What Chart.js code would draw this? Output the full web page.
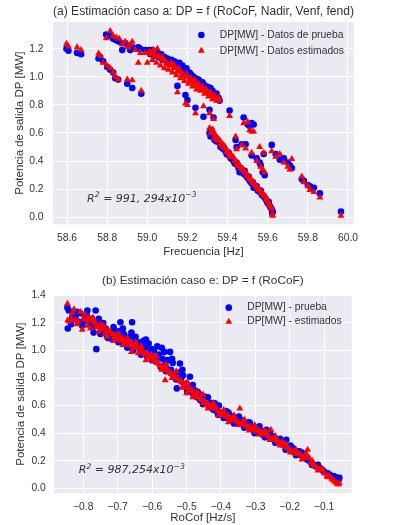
<!DOCTYPE html>
<html>
<head>
<meta charset="utf-8">
<script src="https://cdn.jsdelivr.net/npm/chart.js@4.4.0/dist/chart.umd.min.js"></script>
<style>
	body { margin: 0; background: #fff; }
	canvas { display: block; }
</style>
</head>
<body>
<canvas id="chart-a" width="394" height="263"></canvas>
<canvas id="chart-b" width="394" height="262"></canvas>
<script>
// (a) frecuencia -> DP, same x for test and estimated values
const frecuencia = [
	58.597, 58.607, 58.650, 58.670,
	58.757, 58.765, 58.780, 58.800, 58.815, 58.830, 58.840, 58.855, 58.900, 58.925, 58.970,
	58.795, 58.815, 58.830, 58.845, 58.860, 58.875, 58.890, 58.905, 58.915, 58.925, 58.940, 58.955, 58.965, 58.990, 59.000,
	59.01, 59.02, 59.03, 59.04, 59.05, 59.06, 59.07, 59.08, 59.09, 59.10, 59.11, 59.12, 59.13, 59.14, 59.15, 59.16, 59.17, 59.18,
	59.19, 59.20, 59.21, 59.22, 59.23, 59.24, 59.25, 59.26, 59.27, 59.28, 59.29, 59.30, 59.31, 59.32, 59.33, 59.34, 59.35, 59.36,
	59.015, 59.035, 59.055, 59.075, 59.095, 59.115, 59.135, 59.155, 59.175, 59.195, 59.215, 59.235, 59.255, 59.275, 59.295, 59.315, 59.335, 59.355,
	59.025, 59.045, 59.065, 59.085, 59.105, 59.125, 59.145, 59.165, 59.185, 59.205, 59.225, 59.245, 59.265, 59.285, 59.305, 59.325, 59.345,
	59.150, 59.190, 59.200, 59.240, 59.280, 59.310, 59.330,
	59.410, 59.480, 59.500, 59.510, 59.520, 59.530,
	59.310, 59.320, 59.330, 59.340, 59.350, 59.360, 59.370, 59.380, 59.390, 59.400, 59.410, 59.420, 59.430, 59.440, 59.450, 59.460, 59.470,
	59.480, 59.490, 59.500, 59.510, 59.520, 59.530, 59.540, 59.550, 59.560, 59.570, 59.580, 59.590, 59.600, 59.610, 59.620, 59.625,
	59.325, 59.355, 59.385, 59.405, 59.425, 59.445, 59.465, 59.485, 59.505, 59.525, 59.545, 59.565, 59.585, 59.605, 59.615, 59.622,
	59.315, 59.335, 59.345, 59.365, 59.375, 59.395, 59.415, 59.435, 59.455, 59.475, 59.495, 59.515, 59.535, 59.555, 59.575, 59.595,
	59.440, 59.445, 59.470, 59.490, 59.520, 59.545, 59.560, 59.565, 59.575, 59.585, 59.580,
	59.620, 59.640, 59.660, 59.680, 59.700, 59.720, 59.710,
	59.770, 59.780, 59.800, 59.810, 59.830, 59.860,
	59.965,
];
const dpPruebaA = [
	1.20, 1.185, 1.17, 1.16,
	1.13, 1.14, 1.11, 1.07, 1.05, 1.03, 0.99, 0.98, 0.95, 0.92, 0.88,
	1.30, 1.29, 1.27, 1.26, 1.25, 1.19, 1.24, 1.22, 1.19, 1.21, 1.20, 1.21, 1.20, 1.19, 1.18,
	1.19, 1.17, 1.18, 1.16, 1.17, 1.15, 1.16, 1.14, 1.13, 1.13, 1.11, 1.12, 1.10, 1.09, 1.08, 1.10, 1.06, 1.05,
	1.04, 1.03, 1.03, 1.01, 1.00, 0.98, 0.97, 0.96, 0.95, 0.93, 0.92, 0.91, 0.90, 0.88, 0.88, 0.86, 0.84, 0.83,
	1.16, 1.15, 1.14, 1.12, 1.12, 1.10, 1.11, 1.07, 1.08, 1.06, 1.02, 0.99, 0.98, 0.96, 0.93, 0.92, 0.87, 0.85,
	1.19, 1.17, 1.15, 1.14, 1.12, 1.10, 1.08, 1.07, 1.04, 1.02, 1.00, 0.985, 0.965, 0.94, 0.925, 0.90, 0.88,
	0.935, 0.87, 0.835, 0.78, 0.715, 0.765, 0.71,
	0.76, 0.71, 0.66, 0.65, 0.67, 0.66,
	0.60, 0.62, 0.58, 0.57, 0.545, 0.53, 0.51, 0.50, 0.47, 0.445, 0.44, 0.42, 0.40, 0.38, 0.37, 0.32, 0.34,
	0.31, 0.30, 0.28, 0.26, 0.24, 0.21, 0.215, 0.19, 0.18, 0.16, 0.15, 0.13, 0.10, 0.08, 0.055, 0.04,
	0.59, 0.54, 0.48, 0.46, 0.41, 0.39, 0.35, 0.33, 0.29, 0.25, 0.22, 0.19, 0.14, 0.11, 0.07, 0.03,
	0.575, 0.55, 0.54, 0.50, 0.49, 0.45, 0.42, 0.385, 0.35, 0.32, 0.29, 0.255, 0.225, 0.19, 0.155, 0.115,
	0.55, 0.50, 0.52, 0.52, 0.44, 0.42, 0.39, 0.37, 0.32, 0.30, 0.45,
	0.515, 0.45, 0.41, 0.42, 0.39, 0.35, 0.37,
	0.27, 0.26, 0.23, 0.22, 0.21, 0.17,
	0.04,
];
const dpEstimadoA = [
	1.235, 1.215, 1.21, 1.19,
	1.165, 1.15, 1.10, 1.08, 1.06, 1.03, 1.00, 0.98, 0.98, 0.975, 0.90,
	1.275, 1.325, 1.29, 1.28, 1.27, 1.23, 1.25, 1.21, 1.23, 1.25, 1.19, 1.10, 1.17, 1.17, 1.10,
	1.18, 1.17, 1.19, 1.15, 1.20, 1.14, 1.13, 1.12, 1.11, 1.09, 1.08, 1.10, 1.06, 1.07, 1.04, 1.05, 1.03, 1.01,
	1.00, 1.00, 0.98, 0.97, 0.96, 0.95, 0.94, 0.93, 0.92, 0.91, 0.90, 0.89, 0.88, 0.87, 0.86, 0.85, 0.84, 0.83,
	1.16, 1.16, 1.15, 1.14, 1.10, 1.09, 1.08, 1.06, 1.02, 1.02, 0.99, 0.98, 0.95, 0.93, 0.91, 0.89, 0.87, 0.85,
	1.12, 1.10, 1.08, 1.06, 1.05, 1.03, 1.01, 0.99, 0.97, 0.95, 0.93, 0.91, 0.90, 0.88, 0.86, 0.84, 0.83,
	0.89, 0.81, 0.80, 0.74, 0.79, 0.74, 0.70,
	0.72, 0.67, 0.68, 0.62, 0.61, 0.61,
	0.635, 0.61, 0.60, 0.585, 0.56, 0.55, 0.525, 0.515, 0.49, 0.47, 0.455, 0.43, 0.425, 0.40, 0.385, 0.37, 0.35,
	0.335, 0.32, 0.30, 0.28, 0.265, 0.245, 0.23, 0.21, 0.195, 0.18, 0.16, 0.14, 0.12, 0.09, 0.06, 0.01,
	0.625, 0.545, 0.505, 0.445, 0.435, 0.38, 0.355, 0.32, 0.285, 0.25, 0.215, 0.18, 0.155, 0.10, 0.075, 0.02,
	0.60, 0.565, 0.55, 0.52, 0.50, 0.465, 0.43, 0.40, 0.365, 0.335, 0.30, 0.27, 0.235, 0.20, 0.165, 0.125,
	0.575, 0.485, 0.515, 0.49, 0.46, 0.40, 0.50, 0.36, 0.34, 0.32, 0.46,
	0.47, 0.43, 0.45, 0.39, 0.36, 0.415, 0.34,
	0.29, 0.25, 0.22, 0.195, 0.18, 0.14,
	0.01,
];

// (b) RoCoF -> DP
const rocof = [
	-0.846, -0.845, -0.842, -0.835, -0.827, -0.822, -0.815, -0.808, -0.803, -0.795, -0.790, -0.785, -0.779, -0.775, -0.770,
	-0.764, -0.762, -0.758, -0.750, -0.745, -0.740, -0.735, -0.731, -0.725, -0.720, -0.715, -0.710, -0.705, -0.700, -0.695,
	-0.692, -0.688, -0.682, -0.675, -0.670, -0.665, -0.658, -0.655, -0.650, -0.645, -0.640, -0.635, -0.630, -0.625, -0.620,
	-0.615, -0.610, -0.605, -0.600, -0.595, -0.590, -0.585, -0.580, -0.575, -0.570, -0.565, -0.562, -0.558, -0.555, -0.548,
	-0.545, -0.540, -0.535, -0.528, -0.525, -0.519, -0.515, -0.510, -0.505, -0.500, -0.495, -0.490, -0.485, -0.480, -0.475,
	-0.470, -0.465, -0.460, -0.455, -0.450, -0.446, -0.442, -0.435, -0.430, -0.425, -0.418, -0.413, -0.408, -0.400, -0.395,
	-0.390, -0.385, -0.380, -0.375, -0.370, -0.365, -0.360, -0.355, -0.350, -0.345, -0.340, -0.335, -0.330, -0.325, -0.320,
	-0.316, -0.310, -0.305, -0.300, -0.295, -0.290, -0.285, -0.280, -0.275, -0.268, -0.262, -0.255, -0.250, -0.245, -0.240,
	-0.235, -0.230, -0.225, -0.220, -0.215, -0.210, -0.205, -0.200, -0.195, -0.190, -0.185, -0.180, -0.172, -0.168, -0.160,
	-0.153, -0.148, -0.143, -0.138, -0.130, -0.125, -0.120, -0.114, -0.109, -0.100, -0.090, -0.085, -0.078, -0.070, -0.065,
	-0.061, -0.056,
	-0.832, -0.818, -0.800, -0.788, -0.772, -0.755, -0.742, -0.728, -0.712, -0.698, -0.685, -0.672, -0.660, -0.648, -0.632,
	-0.618, -0.602, -0.588, -0.572, -0.560, -0.542, -0.530, -0.512, -0.498, -0.482, -0.468, -0.452, -0.438, -0.422, -0.406,
	-0.392, -0.378, -0.362, -0.348, -0.332, -0.318, -0.302, -0.288, -0.272, -0.258, -0.242, -0.228, -0.212, -0.198, -0.182,
	-0.165, -0.150, -0.135, -0.118, -0.104, -0.092, -0.074, -0.058,
];
const dpPruebaB = [
	1.31, 1.16, 1.29, 1.19, 1.27, 1.25, 1.21, 1.27, 1.18, 1.24, 1.26, 1.22, 1.20, 1.23, 1.13,
	1.29, 1.01, 1.19, 1.12, 1.17, 1.15, 1.16, 1.10, 1.13, 1.12, 1.08, 1.15, 1.11, 1.10, 1.14,
	1.205, 1.06, 1.12, 1.05, 1.09, 1.10, 1.205, 1.00, 1.07, 1.03, 1.06, 0.99, 1.04, 1.07, 1.02,
	0.96, 1.05, 0.98, 0.93, 1.00, 0.95, 1.03, 0.97, 0.88, 0.94, 0.99, 0.90, 0.87, 0.93, 0.99,
	0.86, 0.91, 0.83, 0.725, 0.84, 0.906, 0.80, 0.82, 0.74, 0.76, 0.72, 0.81, 0.70, 0.68, 0.71,
	0.66, 0.69, 0.64, 0.66, 0.63, 0.665, 0.61, 0.60, 0.62, 0.58, 0.617, 0.56, 0.533, 0.55, 0.54,
	0.52, 0.56, 0.51, 0.53, 0.50, 0.52, 0.49, 0.51, 0.48, 0.50, 0.49, 0.46, 0.48, 0.45, 0.47,
	0.473, 0.44, 0.42, 0.43, 0.44, 0.41, 0.42, 0.39, 0.40, 0.425, 0.38, 0.37, 0.38, 0.35, 0.36,
	0.34, 0.35, 0.32, 0.34, 0.31, 0.353, 0.29, 0.30, 0.28, 0.29, 0.26, 0.27, 0.269, 0.24, 0.23,
	0.22, 0.21, 0.20, 0.19, 0.17, 0.16, 0.16, 0.149, 0.14, 0.12, 0.11, 0.10, 0.09, 0.085, 0.08,
	0.07, 0.077,
	1.24, 1.28, 1.21, 1.29, 1.17, 1.23, 1.20, 1.09, 1.17, 1.06, 1.16, 1.02, 1.13, 1.10, 0.97,
	1.08, 1.01, 0.92, 1.02, 0.85, 0.94, 0.79, 0.86, 0.70, 0.75, 0.70, 0.61, 0.66, 0.57, 0.60,
	0.51, 0.55, 0.47, 0.52, 0.44, 0.48, 0.40, 0.45, 0.37, 0.41, 0.33, 0.36, 0.28, 0.31, 0.24,
	0.26, 0.21, 0.17, 0.17, 0.13, 0.11, 0.09, 0.06,
];
const dpEstimadoB = [
	1.34, 1.22, 1.21, 1.23, 1.30, 1.22, 1.21, 1.28, 1.15, 1.26, 1.22, 1.24, 1.16, 1.22, 1.21,
	1.20, 1.18, 1.17, 1.19, 1.15, 1.16, 1.12, 1.10, 1.14, 1.13, 1.12, 1.10, 1.11, 1.09, 1.08,
	1.10, 1.07, 1.08, 1.06, 1.04, 1.06, 1.05, 1.03, 1.02, 1.04, 0.98, 1.01, 1.00, 0.99, 0.97,
	0.98, 0.96, 0.95, 0.94, 0.92, 0.93, 0.91, 0.90, 0.89, 0.88, 0.86, 0.785, 0.87, 0.85, 0.84,
	0.83, 0.82, 0.81, 0.80, 0.79, 0.78, 0.77, 0.76, 0.75, 0.69, 0.73, 0.71, 0.72, 0.70, 0.68,
	0.67, 0.66, 0.65, 0.64, 0.62, 0.63, 0.605, 0.61, 0.59, 0.60, 0.58, 0.58, 0.56, 0.545, 0.55,
	0.53, 0.52, 0.53, 0.51, 0.50, 0.497, 0.50, 0.49, 0.48, 0.58, 0.47, 0.48, 0.46, 0.45, 0.44,
	0.449, 0.43, 0.44, 0.42, 0.41, 0.42, 0.40, 0.41, 0.39, 0.40, 0.38, 0.425, 0.36, 0.36, 0.35,
	0.34, 0.33, 0.33, 0.33, 0.31, 0.30, 0.29, 0.28, 0.27, 0.26, 0.27, 0.25, 0.25, 0.24, 0.22,
	0.257, 0.28, 0.221, 0.18, 0.17, 0.16, 0.15, 0.14, 0.137, 0.11, 0.08, 0.089, 0.07, 0.05, 0.04,
	0.029, 0.04,
	1.27, 1.19, 1.23, 1.18, 1.24, 1.14, 1.18, 1.15, 1.07, 1.12, 1.04, 1.09, 0.99, 1.06, 1.03,
	0.93, 0.97, 0.96, 0.86, 0.90, 0.80, 0.85, 0.73, 0.77, 0.66, 0.70, 0.68, 0.58, 0.62, 0.53,
	0.57, 0.48, 0.53, 0.46, 0.50, 0.42, 0.46, 0.39, 0.42, 0.35, 0.38, 0.31, 0.32, 0.26, 0.28,
	0.21, 0.23, 0.20, 0.13, 0.14, 0.09, 0.06, 0.03,
];

const frecTicks = [58.6, 58.8, 59.0, 59.2, 59.4, 59.6, 59.8, 60.0];
const dpTicksA = [0.0, 0.2, 0.4, 0.6, 0.8, 1.0, 1.2];
const rocofTicks = [-0.8, -0.7, -0.6, -0.5, -0.4, -0.3, -0.2, -0.1];
const dpTicksB = [0.0, 0.2, 0.4, 0.6, 0.8, 1.0, 1.2, 1.4];

const legendA = ["DP[MW] - Datos de prueba", "DP[MW] - Datos estimados"];
const legendB = ["DP[MW] - prueba", "DP[MW] - estimados"];
const r2TextA = [["R", 0], ["2", 1], [" = 991, 294x10", 0], ["\u22123", 1]];
const r2TextB = [["R", 0], ["2", 1], [" = 987,254x10", 0], ["\u22123", 1]];

const FONT = "'Liberation Sans', Arial, sans-serif";
const TEXT = "#333333";

Chart.defaults.font.family = FONT;

function pairs(xs, ys) {
	return xs.map((x, i) => ({ x, y: ys[i] }));
}

function formatTick(v) {
	return v.toFixed(1).replace("-", "\u2212");
}

const plotBackground = {
	id: "plotBackground",
	beforeDraw(chart) {
		const { ctx, chartArea: a } = chart;
		ctx.save();
		ctx.fillStyle = "#eaeaf2";
		ctx.fillRect(a.left, a.top, a.right - a.left, a.bottom - a.top);
		ctx.restore();
	},
};

// legend drawn inside the plot, top right, like matplotlib's
const cornerLegend = {
	id: "cornerLegend",
	afterDatasetsDraw(chart, args, opts) {
		const { ctx, chartArea: a } = chart;
		const sets = chart.data.datasets;
		ctx.save();
		ctx.font = "10.3px " + FONT;
		const maxW = Math.max(...sets.map(d => ctx.measureText(d.label).width));
		const x0 = a.right - 10 - maxW - 18.5;
		sets.forEach((d, i) => {
			const y = a.top + opts.top + i * opts.gap;
			ctx.fillStyle = d.pointBackgroundColor;
			Chart.helpers.drawPoint(ctx, { pointStyle: d.pointStyle, radius: d.pointRadius, rotation: 0, borderWidth: 0 }, x0, y);
			ctx.fillStyle = TEXT;
			ctx.textBaseline = "middle";
			ctx.fillText(d.label, x0 + 18.5, y);
		});
		ctx.restore();
	},
};

const r2Label = {
	id: "r2Label",
	afterDatasetsDraw(chart, args, opts) {
		const { ctx, scales } = chart;
		let x = scales.x.getPixelForValue(opts.x);
		const y = scales.y.getPixelForValue(opts.y);
		ctx.save();
		ctx.fillStyle = TEXT;
		ctx.textBaseline = "alphabetic";
		for (const [text, sup] of opts.parts) {
			ctx.font = sup ? "italic 7.7px 'DejaVu Sans'" : "italic 11px 'DejaVu Sans'";
			ctx.fillText(text, x, sup ? y - 4.6 : y);
			x += ctx.measureText(text).width;
		}
		ctx.restore();
	},
};

function buildChart(canvasId, s) {
	return new Chart(document.getElementById(canvasId), {
		type: "scatter",
		data: {
			datasets: [
				{
					label: s.labels[0],
					data: pairs(s.xs, s.prueba),
					pointStyle: "circle",
					pointRadius: 3.3,
					pointBackgroundColor: "#0000ff",
					pointBorderWidth: 0,
					order: 1,
				},
				{
					label: s.labels[1],
					data: pairs(s.xs, s.estimado),
					pointStyle: "triangle",
					pointRadius: 4,
					pointBackgroundColor: "#ff0000",
					pointBorderWidth: 0,
					order: 0,
				},
			],
		},
		options: {
			responsive: false,
			animation: false,
			events: [],
			layout: { padding: { left: 0, right: s.padRight, top: 0, bottom: 0 } },
			plugins: {
				legend: { display: false },
				tooltip: { enabled: false },
				title: {
					display: true,
					fullSize: false,
					text: s.title,
					color: TEXT,
					font: { size: s.titleSize, weight: "normal" },
					padding: s.titlePad,
				},
				cornerLegend: { top: s.legendTop, gap: s.legendGap },
				r2Label: { parts: s.r2, x: s.r2At[0], y: s.r2At[1] },
			},
			scales: {
				x: {
					type: "linear",
					min: s.xRange[0],
					max: s.xRange[1],
					afterBuildTicks: scale => { scale.ticks = s.xTicks.map(value => ({ value })); },
					afterFit: scale => { scale.height = s.xHeight; },
					grid: { color: "#ffffff", lineWidth: 1, drawTicks: false },
					border: { display: false },
					ticks: { padding: s.xTickPad, color: TEXT, autoSkip: false, maxRotation: 0, font: { size: 10.3 }, callback: formatTick },
					title: { display: true, text: s.xTitle, color: TEXT, font: { size: 11.5 }, padding: { top: 0, bottom: s.xTitlePad } },
				},
				y: {
					type: "linear",
					min: s.yRange[0],
					max: s.yRange[1],
					afterBuildTicks: scale => { scale.ticks = s.yTicks.map(value => ({ value })); },
					afterFit: scale => { scale.width = s.yWidth; },
					grid: { color: "#ffffff", lineWidth: 1, drawTicks: false },
					border: { display: false },
					ticks: { padding: s.yTickPad, color: TEXT, autoSkip: false, font: { size: 10.3 }, callback: formatTick },
					title: { display: true, text: "Potencia de salida DP [MW]", color: TEXT, font: { size: 11.5 }, padding: { top: s.yTitlePad, bottom: 0 } },
				},
			},
		},
		plugins: [plotBackground, cornerLegend, r2Label],
	});
}

buildChart("chart-a", {
	title: "(a) Estimación caso a: DP = f (RoCoF, Nadir, Venf, fend)",
	titleSize: 12.4,
	xTitle: "Frecuencia [Hz]",
	labels: legendA,
	xs: frecuencia,
	prueba: dpPruebaA,
	estimado: dpEstimadoA,
	xRange: [58.53, 60.03],
	yRange: [-0.05, 1.39],
	xTicks: frecTicks,
	yTicks: dpTicksA,
	padRight: 40,
	yWidth: 53,
	xHeight: 38.7,
	titlePad: { top: 4.1, bottom: 3.0 },
	xTickPad: 7.5,
	yTickPad: 9.5,
	xTitlePad: 4.4,
	yTitlePad: 12.7,
	legendTop: 13,
	legendGap: 15.7,
	r2: r2TextA,
	r2At: [58.7, 0.11],
});

buildChart("chart-b", {
	title: "(b) Estimación caso e: DP = f (RoCoF)",
	titleSize: 11.8,
	xTitle: "RoCof [Hz/s]",
	labels: legendB,
	xs: rocof,
	prueba: dpPruebaB,
	estimado: dpEstimadoB,
	xRange: [-0.885, -0.02],
	yRange: [-0.036, 1.403],
	xTicks: rocofTicks,
	yTicks: dpTicksB,
	padRight: 42.3,
	yWidth: 54,
	xHeight: 31.7,
	titlePad: { top: 10.7, bottom: 7.1 },
	xTickPad: 7.2,
	yTickPad: 8.3,
	xTitlePad: 0.2,
	yTitlePad: 14,
	legendTop: 12.7,
	legendGap: 14,
	r2: r2TextB,
	r2At: [-0.813, 0.11],
});
</script>
</body>
</html>
